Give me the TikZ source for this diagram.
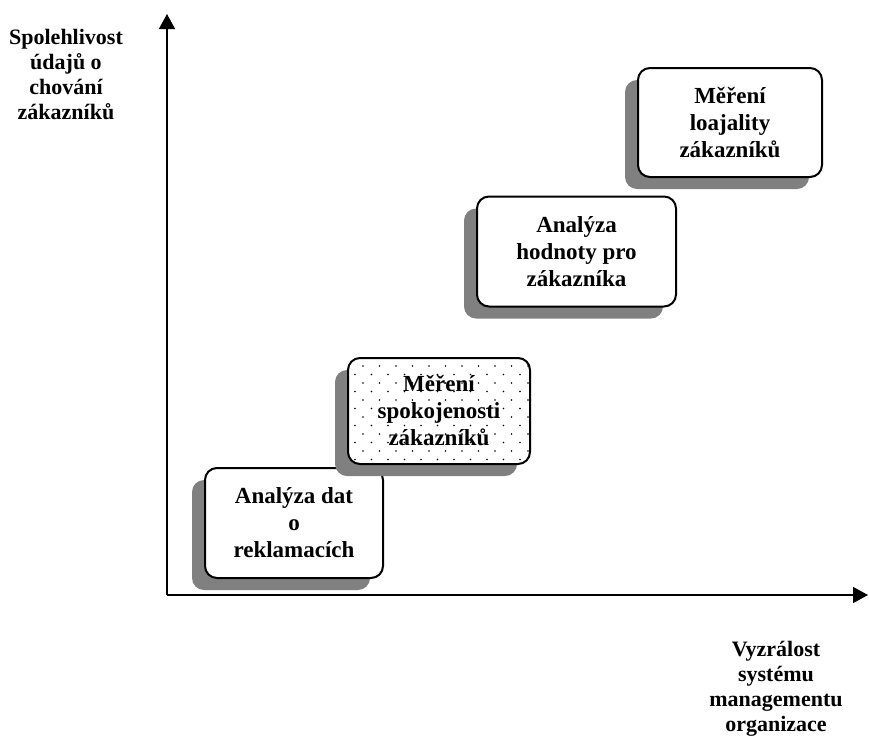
\documentclass[tikz,border=0pt]{standalone}
\usepackage{fontspec}
\setmainfont{Liberation Serif}
\usetikzlibrary{arrows.meta,shadows}

\tikzset{
  axis/.style={line width=1.5pt, -{Triangle[length=15pt,width=16pt]}},
  stagebox/.style={draw, line width=2pt, rounded corners=12pt, fill=white,
    align=center, inner sep=0pt,
    font=\fontsize{23}{27}\selectfont\bfseries,
    drop shadow={shadow xshift=-13pt, shadow yshift=-12pt,
                 fill=black!50, opacity=1}},
  axislabel/.style={align=center, inner sep=0pt, anchor=north,
    font=\fontsize{22}{25}\selectfont\bfseries},
}

\begin{document}
\begin{tikzpicture}[x=1pt,y=-1pt]
  \useasboundingbox (0,0) rectangle (869,737);

  % axes
  \coordinate (origin) at (167,595);
  \coordinate (ytip) at (167,14);
  \coordinate (xtip) at (868,595);
  \draw[axis] (origin) -- (ytip);
  \draw[axis] (origin) -- (xtip);

  % axis titles
  \node[axislabel] (ylabel) at (66,29)
    {Spolehlivost\\údajů o\\chování\\zákazníků};
  \node[axislabel] (xlabel) at (776,641)
    {Vyzrálost\\systému\\managementu\\organizace};

  % stages
  \node[stagebox, minimum width=178pt, minimum height=110pt] (reklamace) at (294,523)
    {Analýza dat\\o\\reklamacích};

  \node[stagebox, minimum width=182pt, minimum height=106pt,
    path picture={
      \foreach \j in {0,...,11} {
        \pgfmathsetmacro{\xo}{mod(\j,2)==0 ? 15 : 7}
        \foreach \i in {0,...,11} {
          \fill[black] ([xshift=\xo pt+\i*16.5pt, yshift=-8pt-\j*8.5pt]path picture bounding box.north west)
            circle (0.8pt);
        }
      }
    }] (spokojenost) at (439,411)
    {Měření\\spokojenosti\\zákazníků};

  \node[stagebox, minimum width=199pt, minimum height=110pt] (hodnota) at (576.5,251.5)
    {Analýza\\hodnoty pro\\zákazníka};

  \node[stagebox, minimum width=184pt, minimum height=109pt] (loajalita) at (730,122.5)
    {Měření\\loajality\\zákazníků};
\end{tikzpicture}
\end{document}
